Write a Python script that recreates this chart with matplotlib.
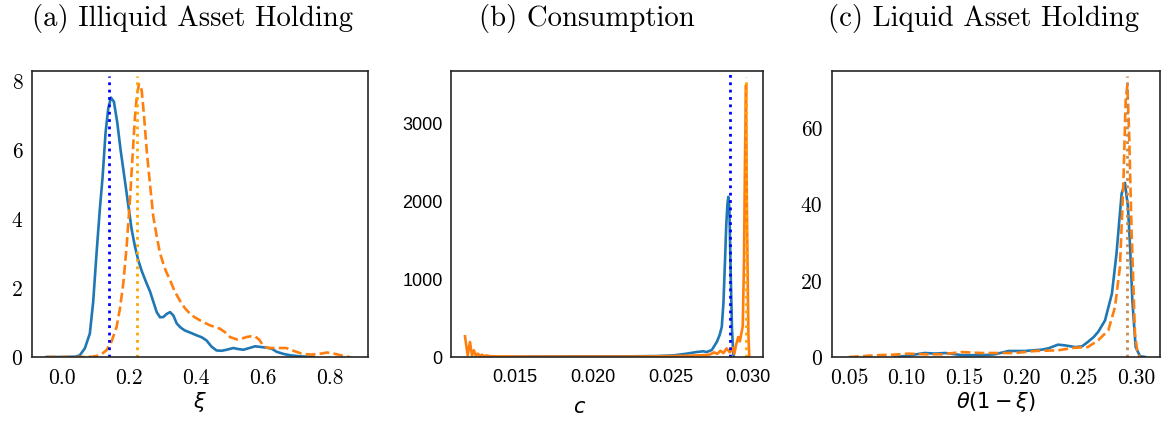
import matplotlib
matplotlib.use("Agg")
import matplotlib.pyplot as plt

# (a) illiquid asset holding, xi
a_x_blue = [-0.046, 0.0, 0.04, 0.053, 0.068, 0.083, 0.093, 0.103, 0.113, 0.121, 0.13, 0.138,
            0.146, 0.155, 0.165, 0.175, 0.188, 0.198, 0.208, 0.218, 0.228, 0.238, 0.25, 0.263,
            0.273, 0.283, 0.293, 0.303, 0.313, 0.323, 0.333, 0.343, 0.355, 0.367, 0.385, 0.402,
            0.418, 0.432, 0.447, 0.462, 0.477, 0.492, 0.512, 0.527, 0.542, 0.56, 0.577, 0.595,
            0.612, 0.627, 0.642, 0.662, 0.682, 0.711, 0.752]
a_y_blue = [0, 0, 0.01, 0.05, 0.25, 0.68, 1.6, 3.0, 4.3, 5.2, 6.5, 7.2,
            7.52, 7.4, 6.8, 6.0, 5.1, 4.4, 3.7, 3.2, 2.8, 2.5, 2.2, 1.9,
            1.6, 1.3, 1.15, 1.16, 1.25, 1.3, 1.2, 0.97, 0.85, 0.77, 0.7, 0.63,
            0.57, 0.48, 0.3, 0.19, 0.18, 0.21, 0.26, 0.23, 0.21, 0.26, 0.31, 0.29,
            0.27, 0.24, 0.15, 0.09, 0.05, 0.02, 0.0]
a_x_orange = [-0.046, 0.05, 0.09, 0.103, 0.118, 0.133, 0.148, 0.163, 0.173, 0.183, 0.193, 0.203,
              0.21, 0.218, 0.224, 0.23, 0.238, 0.245, 0.253, 0.263, 0.273, 0.283, 0.293, 0.308,
              0.323, 0.337, 0.352, 0.367, 0.382, 0.397, 0.413, 0.427, 0.442, 0.457, 0.472, 0.487,
              0.502, 0.522, 0.537, 0.552, 0.565, 0.577, 0.59, 0.6, 0.612, 0.627, 0.642, 0.657,
              0.671, 0.686, 0.701, 0.716, 0.731, 0.746, 0.761, 0.776, 0.792, 0.806, 0.821, 0.841, 0.861]
a_y_orange = [0, 0, 0.01, 0.03, 0.08, 0.2, 0.45, 0.87, 1.4, 2.13, 3.2, 4.55,
              5.7, 6.96, 7.6, 7.91, 7.74, 7.0, 6.0, 5.0, 4.06, 3.5, 3.0, 2.55,
              2.22, 1.9, 1.64, 1.42, 1.26, 1.15, 1.06, 0.99, 0.92, 0.87, 0.82, 0.72,
              0.58, 0.51, 0.53, 0.58, 0.6, 0.6, 0.5, 0.35, 0.27, 0.26, 0.26, 0.26,
              0.26, 0.2, 0.15, 0.1, 0.08, 0.07, 0.08, 0.1, 0.13, 0.11, 0.08, 0.03, 0]
a_mean_blue, a_mean_orange = 0.140, 0.2247

# (b) consumption, c
b_x_blue = [0.0145, 0.016, 0.019, 0.022, 0.0241, 0.0252, 0.02604, 0.02668, 0.0271, 0.02732,
            0.02765, 0.02797, 0.02815, 0.02829, 0.0284, 0.0285, 0.02858, 0.02865, 0.02871,
            0.02878, 0.02886, 0.02895, 0.02903, 0.02908]
b_y_blue = [0, 5, 8, 8, 12, 21, 43, 64, 73, 64,
            90, 193, 280, 386, 700, 1243, 1700, 1950, 2057,
            1900, 1100, 350, 40, 0]
b_x_orange = [0.01179, 0.01196, 0.01211, 0.01224, 0.01236, 0.01249, 0.01262, 0.01275, 0.01288,
              0.01301, 0.01318, 0.0134, 0.01382, 0.01553, 0.01768, 0.01982, 0.02196, 0.0241,
              0.02518, 0.02625, 0.0273, 0.0275, 0.0278, 0.028, 0.0282, 0.0284, 0.0286, 0.0288,
              0.029, 0.0291, 0.0292, 0.02935, 0.02945, 0.02955, 0.02964, 0.02972, 0.02978,
              0.02985, 0.0299, 0.03, 0.03006]
b_y_orange = [266, 21, 193, 17, 86, 17, 43, 13, 30,
              10, 20, 10, 8, 5, 5, 5, 5, 8,
              12, 17, 25, 30, 60, 40, 80, 50, 110, 60,
              120, 40, 150, 257, 200, 300, 400, 1243, 2500,
              3493, 2000, 300, 0]
b_mean_blue, b_mean_orange = 0.0288, 0.02985

# (c) liquid asset holding, theta(1 - xi)
c_x_blue = [0.09, 0.1, 0.116, 0.125, 0.134, 0.148, 0.1656, 0.177, 0.189, 0.203, 0.218, 0.224,
            0.232, 0.238, 0.247, 0.253, 0.258, 0.263, 0.267, 0.273, 0.279, 0.283, 0.2855,
            0.2875, 0.2904, 0.293, 0.295, 0.2968, 0.2997, 0.3035, 0.308]
c_y_blue = [0, 0.3, 1.05, 0.9, 1.05, 0.5, 0.44, 0.7, 1.58, 1.58, 1.93, 2.3,
            3.24, 3.06, 2.6, 2.8, 3.94, 5.2, 6.57, 9.6, 16.6, 27.1, 36,
            42.9, 45.7, 39.4, 28, 14.9, 2.6, 0.2, 0]
c_x_orange = [0.05, 0.0727, 0.0875, 0.1017, 0.116, 0.131, 0.148, 0.1656, 0.183, 0.1946, 0.212,
              0.232, 0.247, 0.258, 0.267, 0.2759, 0.2817, 0.286, 0.289, 0.291, 0.2925, 0.294,
              0.2962, 0.2991, 0.3014, 0.3035]
c_y_orange = [0, 0.44, 0.6, 0.88, 0.7, 0.7, 1.3, 1.05, 1.05, 1.05, 1.58,
              1.75, 2.45, 2.6, 4.38, 7, 13.1, 23.6, 45.5, 67.4, 71.4, 58.7,
              32.4, 6.1, 0.88, 0]
c_mean = 0.2924

a_xticks = [0.0, 0.2, 0.4, 0.6, 0.8]
a_yticks = [0, 2, 4, 6, 8]
b_xticks = [0.015, 0.020, 0.025, 0.030]
b_yticks = [0, 1000, 2000, 3000]
c_xticks = [0.05, 0.10, 0.15, 0.20, 0.25, 0.30]
c_yticks = [0, 20, 40, 60]

BLUE = '#1f77b4'
ORANGE = '#ff7f0e'
SPINE = '#262626'

fig = plt.figure(figsize=(11.62, 4.21), dpi=100)
ax_a = fig.add_axes([32 / 1162, 64 / 421, 336 / 1162, 286 / 421])
ax_b = fig.add_axes([451 / 1162, 64 / 421, 312 / 1162, 286 / 421])
ax_c = fig.add_axes([832 / 1162, 64 / 421, 328 / 1162, 286 / 421])

for ax in (ax_a, ax_b, ax_c):
    for s in ax.spines.values():
        s.set_color(SPINE)
        s.set_linewidth(1.2)
    ax.tick_params(length=0)

# panel a
ax_a.plot(a_x_blue, a_y_blue, color=BLUE, lw=1.9)
ax_a.plot(a_x_orange, a_y_orange, color=ORANGE, lw=1.9, ls='--')
ax_a.vlines(a_mean_blue, 0, 8.14, color='blue', lw=2, ls=':')
ax_a.vlines(a_mean_orange, 0, 8.14, color='orange', lw=2, ls=':')
ax_a.set_xlim(-0.09, 0.915)
ax_a.set_ylim(0, 8.29)
ax_a.set_xticks(a_xticks, [f'{v:.1f}' for v in a_xticks])
ax_a.set_yticks(a_yticks, [str(v) for v in a_yticks])
ax_a.set_xlabel(r'$\xi$', fontsize=15, labelpad=2)

# panel b
ax_b.plot(b_x_blue, b_y_blue, color=BLUE, lw=1.9)
ax_b.plot(b_x_orange, b_y_orange, color=ORANGE, lw=1.9)
ax_b.vlines(b_mean_blue, 0, 3673, color='blue', lw=2, ls=':')
ax_b.vlines(b_mean_orange, 0, 3600, color='orange', lw=2, ls=':')
ax_b.set_xlim(0.01089, 0.03094)
ax_b.set_ylim(0, 3673)
ax_b.set_xticks(b_xticks, [f'{v:.3f}' for v in b_xticks])
ax_b.set_yticks(b_yticks, [str(v) for v in b_yticks])
ax_b.set_xlabel(r'$c$', fontsize=15, labelpad=2)
ax_b.xaxis.set_label_coords(0.413, -0.14)

# panel c
ax_c.plot(c_x_blue, c_y_blue, color=BLUE, lw=1.9)
ax_c.plot(c_x_orange, c_y_orange, color=ORANGE, lw=1.9, ls='--')
ax_c.vlines(c_mean, 0, 73.7, color='#c98a4b', lw=2, ls=':')
ax_c.set_xlim(0.0352, 0.3209)
ax_c.set_ylim(0, 75.07)
ax_c.set_xticks(c_xticks, [f'{v:.2f}' for v in c_xticks])
ax_c.set_yticks(c_yticks, [str(v) for v in c_yticks])
ax_c.set_xlabel(r'$\theta(1-\xi)$', fontsize=15, labelpad=2)

for ax in (ax_a, ax_c):
    for lab in ax.get_xticklabels() + ax.get_yticklabels():
        lab.set_fontfamily('cmr10')
        lab.set_fontsize(15.5)
    ax.tick_params(axis='x', pad=8)
    ax.tick_params(axis='y', pad=7)
for lab in ax_b.get_xticklabels() + ax_b.get_yticklabels():
    lab.set_fontfamily('Liberation Sans')
    lab.set_fontsize(13)
ax_b.tick_params(axis='x', pad=9)
ax_b.tick_params(axis='y', pad=6)

fig.text(192 / 1162, 1 - 18 / 421, '(a) Illiquid Asset Holding', fontfamily='cmr10',
         fontsize=20.7, ha='center', va='center')
fig.text(587 / 1162, 1 - 18 / 421, '(b) Consumption', fontfamily='cmr10',
         fontsize=20.7, ha='center', va='center')
fig.text(983 / 1162, 1 - 18 / 421, '(c) Liquid Asset Holding', fontfamily='cmr10',
         fontsize=20.7, ha='center', va='center')

fig.savefig('out.png', dpi=100)
